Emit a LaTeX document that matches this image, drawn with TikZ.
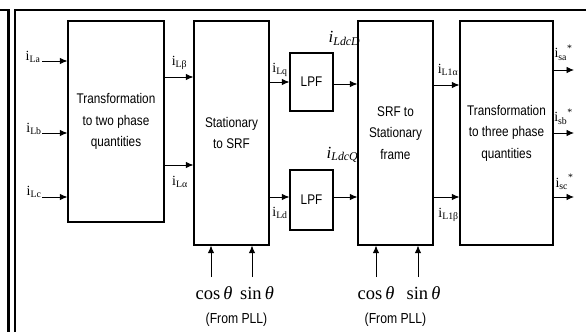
\documentclass[tikz,border=0pt]{standalone}
\usepackage{fontspec}
\setmainfont{Liberation Serif}
\newfontfamily\boxfont[FakeStretch=0.84]{Liberation Sans}
\usetikzlibrary{arrows.meta}
\begin{document}
\begin{tikzpicture}[x=1pt,y=-1pt,
  blk/.style={draw, line width=1.1pt, font=\boxfont\fontsize{14}{21.5}\selectfont, align=center, inner sep=0pt},
  arr/.style={-{Latex[length=7.5pt,width=6.5pt]}, line width=0.9pt},
  lab/.style={font=\fontsize{14}{14}\selectfont, inner sep=0pt},
  biglab/.style={font=\fontsize{17}{17}\selectfont, inner sep=0pt},
  trig/.style={font=\fontsize{18.5}{18.5}\selectfont, inner sep=0pt},
  pll/.style={font=\boxfont\fontsize{14.5}{14.5}\selectfont, inner sep=0pt},
  frame/.style={line width=2.6pt}]
\useasboundingbox (0,0) rectangle (586,332);
% page frame
\draw[frame] (0,10) -- (8.7,10) -- (8.7,332);
\draw[frame] (15,332) -- (15,10) -- (586,10);
% blocks
\node[blk, minimum width=96pt, minimum height=201pt] (b1) at (116,121.5) {Transformation\\to two phase\\quantities};
\node[blk, minimum width=75pt, minimum height=224pt] (b2) at (231.5,133) {Stationary\\to SRF};
\node[blk, minimum width=43pt, minimum height=58pt] (lp1) at (311.5,82) {LPF};
\node[blk, minimum width=43pt, minimum height=60pt] (lp2) at (311.5,200) {LPF};
\node[blk, minimum width=75pt, minimum height=224pt] (b3) at (395.5,133) {SRF to\\Stationary\\frame};
\node[blk, minimum width=93pt, minimum height=224pt] (b4) at (506.5,133) {Transformation\\to three phase\\quantities};
% inputs
\coordinate (ia) at (42,61);
\coordinate (ib) at (42,133);
\coordinate (ic) at (42,197);
\draw[arr] (ia) -- (ia -| b1.west);
\draw[arr] (ib) -- (ib -| b1.west);
\draw[arr] (ic) -- (ic -| b1.west);
\node[lab] (la) at (33,57) {i\textsubscript{La}};
\node[lab] (lb) at (34,129) {i\textsubscript{Lb}};
\node[lab] (lc) at (34,192) {i\textsubscript{Lc}};
% b1 -> b2
\coordinate (y1) at (0,77);
\coordinate (y2) at (0,165);
\draw[arr] (b1.east |- y1) -- (b2.west |- y1);
\draw[arr] (b1.east |- y2) -- (b2.west |- y2);
\node[lab] (lbeta) at (179.5,62.5) {i\textsubscript{Lβ}};
\node[lab] (lalpha) at (180,182) {i\textsubscript{Lα}};
% b2 -> LPF
\draw[arr] (b2.east |- lp1) -- (lp1.west);
\draw[arr] (b2.east |- 0,197) -- (lp2.west |- 0,197);
\node[lab] (lq) at (280,69.5) {i\textsubscript{Lq}};
\node[lab] (ld) at (280,213) {i\textsubscript{Ld}};
% LPF -> b3
\draw[arr] (lp1.east |- 0,84) -- (b3.west |- 0,84);
\draw[arr] (lp2.east |- 0,197) -- (b3.west |- 0,197);
\node[biglab] (ldcd) at (344.5,38.5) {\textit{i}\textsubscript{\textit{LdcD}}};
\node[biglab] (ldcq) at (342.5,155) {\textit{i}\textsubscript{\textit{LdcQ}}};
% b3 -> b4
\draw[arr] (b3.east |- 0,85) -- (b4.west |- 0,85);
\draw[arr] (b3.east |- 0,197) -- (b4.west |- 0,197);
\node[lab] (l1a) at (448,69.5) {i\textsubscript{L1α}};
\node[lab] (l1b) at (448.5,215) {i\textsubscript{L1β}};
% outputs
\coordinate (oa) at (574,70);
\coordinate (ob) at (574,133);
\coordinate (oc) at (574,197);
\draw[arr] (oa -| b4.east) -- (oa);
\draw[arr] (ob -| b4.east) -- (ob);
\draw[arr] (oc -| b4.east) -- (oc);
\node[lab] (lsa) at (563.5,52.5) {i\textsubscript{sa}\raisebox{1.5pt}{\textsuperscript{*}}};
\node[lab] (lsb) at (563.5,116.5) {i\textsubscript{sb}\raisebox{1.5pt}{\textsuperscript{*}}};
\node[lab] (lsc) at (564.5,182) {i\textsubscript{sc}\raisebox{1.5pt}{\textsuperscript{*}}};
% PLL inputs
\coordinate (c1) at (211,277);
\coordinate (s1) at (252,277);
\coordinate (c2) at (376,277);
\coordinate (s2) at (418,277);
\draw[arr] (c1) -- (c1 |- b2.south);
\draw[arr] (s1) -- (s1 |- b2.south);
\draw[arr] (c2) -- (c2 |- b3.south);
\draw[arr] (s2) -- (s2 |- b3.south);
\node[trig] (tc1) at (214,293.5) {cos\,\textit{θ}};
\node[trig] (ts1) at (257,293.5) {sin\,\textit{θ}};
\node[trig] (tc2) at (376,293.5) {cos\,\textit{θ}};
\node[trig] (ts2) at (423.5,293.5) {sin\,\textit{θ}};
\node[pll] (p1) at (236.5,319.5) {(From PLL)};
\node[pll] (p2) at (395.5,319.5) {(From PLL)};
\end{tikzpicture}
\end{document}
